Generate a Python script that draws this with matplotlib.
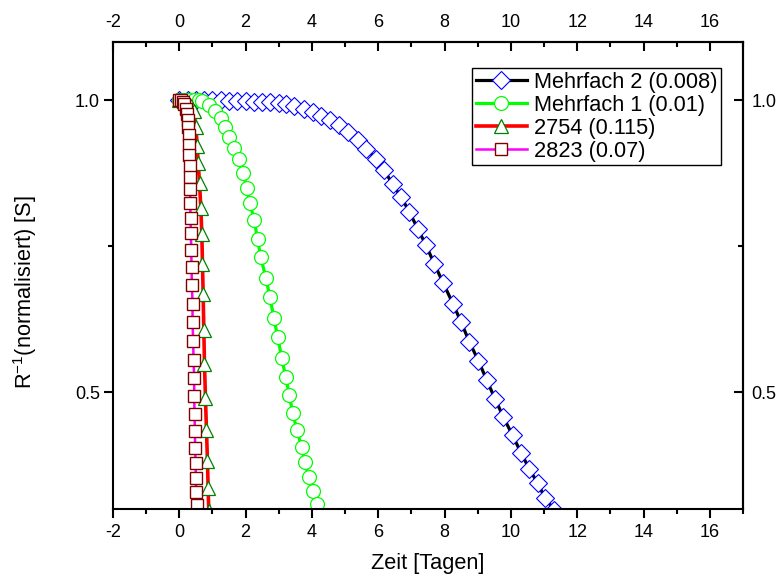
import matplotlib
matplotlib.use("Agg")
import matplotlib.pyplot as plt
from matplotlib.ticker import MultipleLocator, FuncFormatter, FormatStrFormatter

plt.rcParams["font.family"] = ["Liberation Sans", "DejaVu Sans"]
plt.rcParams["mathtext.fontset"] = "custom"
plt.rcParams["mathtext.rm"] = "Liberation Sans"
plt.rcParams["mathtext.default"] = "regular"

# Mehrfach 2 (0.008)
t_m2 = [0.00, 0.25, 0.50, 0.75, 1.00, 1.25, 1.50, 1.75, 2.00, 2.25, 2.50, 2.75,
        3.00, 3.22, 3.47, 3.77, 4.02, 4.27, 4.55, 4.83, 5.10, 5.38, 5.63, 5.93,
        6.18, 6.43, 6.69, 6.94, 7.19, 7.44, 7.69, 7.96, 8.25, 8.50, 8.75, 9.02,
        9.27, 9.52, 9.77, 10.05, 10.31, 10.56, 10.81, 11.03, 11.31]
r_m2 = [1.000, 1.000, 1.000, 1.000, 1.000, 1.000, 0.999, 0.999, 0.999, 0.998, 0.998, 0.997,
        0.996, 0.994, 0.990, 0.986, 0.980, 0.974, 0.966, 0.957, 0.946, 0.932, 0.917, 0.900,
        0.880, 0.857, 0.834, 0.809, 0.780, 0.752, 0.720, 0.687, 0.652, 0.620, 0.586, 0.554,
        0.521, 0.489, 0.458, 0.426, 0.396, 0.368, 0.344, 0.319, 0.298]

# Mehrfach 1 (0.01)
t_m1 = [0.00, 0.15, 0.30, 0.45, 0.58, 0.70, 0.90, 1.09, 1.26, 1.39, 1.51, 1.66,
        1.79, 1.93, 2.03, 2.13, 2.26, 2.36, 2.46, 2.61, 2.73, 2.85, 2.97, 3.09,
        3.21, 3.32, 3.42, 3.55, 3.69, 3.79, 3.90, 4.02, 4.14]
r_m1 = [1.000, 1.000, 1.000, 1.000, 1.000, 0.999, 0.992, 0.982, 0.969, 0.955, 0.938, 0.919,
        0.899, 0.875, 0.850, 0.824, 0.795, 0.762, 0.731, 0.696, 0.664, 0.628, 0.594, 0.559,
        0.526, 0.495, 0.464, 0.435, 0.406, 0.381, 0.355, 0.331, 0.309]

# 2754 (0.115)
t_2754 = [0.00, 0.20, 0.36, 0.44, 0.50, 0.54, 0.57, 0.61, 0.65, 0.68, 0.70, 0.72,
          0.74, 0.76, 0.79, 0.82, 0.85, 0.87, 0.89]
r_2754 = [1.000, 0.998, 0.990, 0.982, 0.955, 0.922, 0.893, 0.859, 0.816, 0.771, 0.720, 0.668,
          0.607, 0.548, 0.490, 0.435, 0.383, 0.336, 0.296]

# 2823 (0.07)
t_2823 = [0.00, 0.05, 0.10, 0.15, 0.19, 0.22, 0.25, 0.27, 0.28, 0.29, 0.30, 0.31,
          0.32, 0.33, 0.33, 0.34, 0.35, 0.36, 0.37, 0.38, 0.40, 0.40, 0.42, 0.43,
          0.45, 0.45, 0.46, 0.47, 0.48, 0.49, 0.50, 0.51, 0.52]
r_2823 = [1.000, 1.000, 0.998, 0.993, 0.986, 0.977, 0.966, 0.955, 0.941, 0.924, 0.906, 0.888,
          0.868, 0.848, 0.825, 0.799, 0.772, 0.744, 0.715, 0.684, 0.652, 0.620, 0.587, 0.555,
          0.524, 0.493, 0.463, 0.433, 0.404, 0.378, 0.353, 0.329, 0.307]

fig = plt.figure(figsize=(7.79, 5.79), dpi=100)
ax = fig.add_axes([0.145, 0.1209, 0.8088, 0.8066])

ax.plot(t_m2, r_m2, color="black", lw=2.3, marker="D", ms=8.8,
        mfc="white", mec="#0000ff", mew=0.8, label="Mehrfach 2 (0.008)")
ax.plot(t_m1, r_m1, color="#00ff00", lw=2.3, marker="o", ms=10,
        mfc="white", mec="#00ff00", mew=0.9, label="Mehrfach 1 (0.01)")
ax.plot(t_2754, r_2754, color="#ff0000", lw=2.6, marker="^", ms=9.5,
        mfc="white", mec="#008000", mew=0.9, label="2754 (0.115)")
ax.plot(t_2823, r_2823, color="#ff00ff", lw=1.8, marker="s", ms=8.8,
        mfc="white", mec="#800000", mew=1.0, label="2823 (0.07)")

ax.set_xlim(-2, 17)
ax.set_ylim(0.3, 1.1)

ax.xaxis.set_major_locator(MultipleLocator(2))
ax.xaxis.set_minor_locator(MultipleLocator(1))
ax.yaxis.set_major_locator(MultipleLocator(0.5))
ax.yaxis.set_minor_locator(MultipleLocator(0.25))

for s in ax.spines.values():
    s.set_linewidth(1.5)

xfmt = FuncFormatter(lambda v, p: f"{v:g}")
yfmt = FormatStrFormatter("%.1f")

ax.tick_params(axis="both", which="major", direction="out", length=6.5, width=1.5, labelsize=13)
ax.tick_params(axis="both", which="minor", direction="out", length=3.5, width=1.5)
ax.tick_params(axis="x", which="major", pad=4)
ax.tick_params(axis="y", which="major", pad=3)
ax.xaxis.set_major_formatter(xfmt)
ax.yaxis.set_major_formatter(yfmt)

# top and right axes, ticks pointing inward
top = ax.secondary_xaxis("top")
top.xaxis.set_major_locator(MultipleLocator(2))
top.xaxis.set_minor_locator(MultipleLocator(1))
top.xaxis.set_major_formatter(xfmt)
top.tick_params(which="major", direction="in", length=6.5, width=1.5, labelsize=13, pad=8)
top.tick_params(which="minor", direction="in", length=3.5, width=1.5)
top.spines["top"].set_linewidth(1.5)

right = ax.secondary_yaxis("right")
right.yaxis.set_major_locator(MultipleLocator(0.5))
right.yaxis.set_minor_locator(MultipleLocator(0.25))
right.yaxis.set_major_formatter(yfmt)
right.tick_params(which="major", direction="in", length=6.5, width=1.5, labelsize=13, pad=6)
right.tick_params(which="minor", direction="in", length=3.5, width=1.5)
right.spines["right"].set_linewidth(1.5)

# no offset texts needed
for a in (ax.xaxis, ax.yaxis, top.xaxis, right.yaxis):
    a.get_offset_text().set_visible(False)

ax.set_xlabel("Zeit [Tagen]", fontsize=15.7)
ax.set_ylabel("R$^{-1}$(normalisiert) [S]", fontsize=15.7)
ax.yaxis.set_label_coords(-0.117, 0.465)
ax.xaxis.set_label_coords(0.5, -0.095)

leg = ax.legend(loc="upper right", bbox_to_anchor=(0.9646, 0.9437), borderaxespad=0,
                fontsize=15.7, numpoints=1, handlelength=2.36, handletextpad=0.31,
                labelspacing=0.1, borderpad=0.15, frameon=True, fancybox=False,
                framealpha=1, edgecolor="black")
leg.get_frame().set_linewidth(1.0)

fig.savefig("out.png", dpi=100)
